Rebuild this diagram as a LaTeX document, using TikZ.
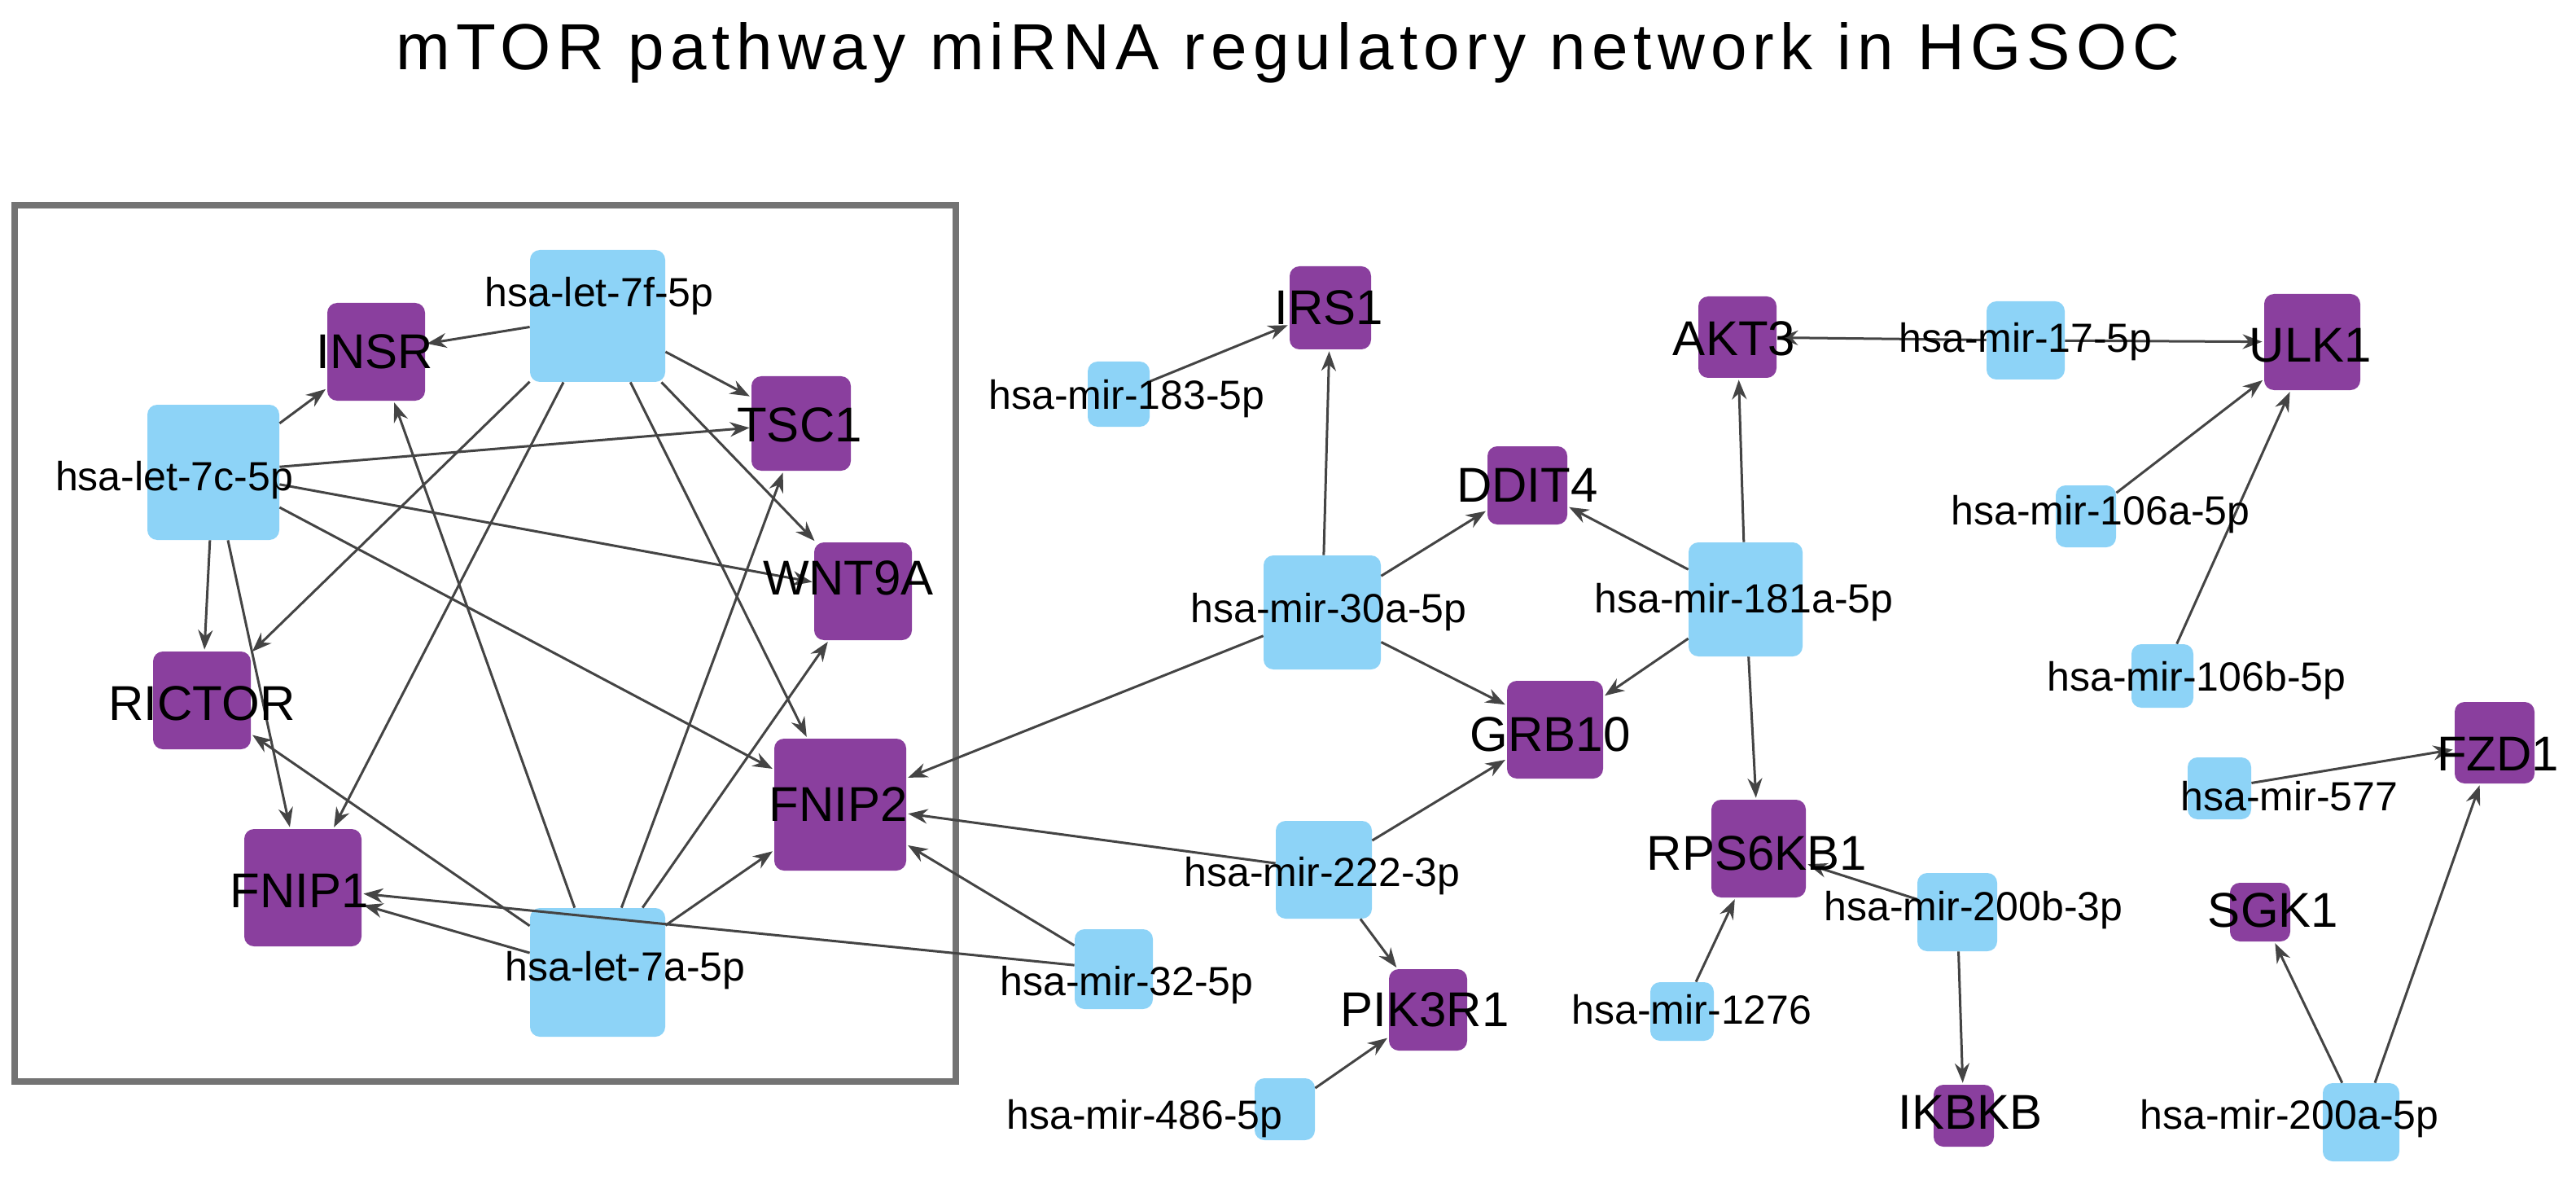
\documentclass[tikz,border=0pt]{standalone}
\usepackage{fontspec}
\setmainfont{Liberation Sans}
\usetikzlibrary{arrows.meta}
\definecolor{pur}{HTML}{8A3F9E}
\definecolor{blu}{HTML}{8DD3F7}
\definecolor{edg}{HTML}{444444}
\begin{document}
\begin{tikzpicture}[x=1pt,y=-1pt,
 p/.style={fill=pur,draw=none,rounded corners=6pt,inner sep=0},
 b/.style={fill=blu,draw=none,rounded corners=6pt,inner sep=0},
 pl/.style={font=\fontsize{30}{32}\selectfont,inner sep=0},
 bl/.style={font=\fontsize{25}{27}\selectfont,inner sep=0},
 e/.style={draw=edg,line width=1.5pt,-{Stealth[length=12pt,width=9pt]},shorten >=1pt}]
\useasboundingbox (0,0) rectangle (1582,730);
\node[font=\fontsize{40}{44}\selectfont\addfontfeature{LetterSpace=9},anchor=base] (title) at (791,43) {mTOR pathway miRNA regulatory network in HGSOC};
\draw[draw=gray!90!black,line width=4pt] (9,126) rectangle (587,664);
\newcommand\nd[5]{\node[#1,minimum width=#4,minimum height=#5] (#2) at (#3) {};}
% purple
\nd{p}{INSR}{231,216}{60}{60}
\nd{p}{TSC1}{492,260}{61}{58}
\nd{p}{WNT9A}{530,363}{60}{60}
\nd{p}{RICTOR}{124,430}{60}{60}
\nd{p}{FNIP1}{186,545}{72}{72}
\nd{p}{FNIP2}{516,494}{81}{81}
\nd{p}{IRS1}{817,189}{50}{51}
\nd{p}{DDIT4}{938,298}{49}{48}
\nd{p}{GRB10}{955,448}{59}{60}
\nd{p}{PIK3R1}{877,620}{48}{50}
\nd{p}{AKT3}{1067,207}{48}{50}
\nd{p}{ULK1}{1420,210}{59}{59}
\nd{p}{RPS6KB1}{1080,521}{58}{60}
\nd{p}{IKBKB}{1206,685}{37}{38}
\nd{p}{SGK1}{1388,560}{37}{36}
\nd{p}{FZD1}{1532,456}{49}{50}
% blue
\nd{b}{l7f}{367,194}{83}{81}
\nd{b}{l7c}{131,290}{81}{83}
\nd{b}{l7a}{367,597}{83}{79}
\nd{b}{m183}{687,242}{38}{40}
\nd{b}{m30a}{812,376}{72}{70}
\nd{b}{m181a}{1072,368}{70}{70}
\nd{b}{m17}{1244,209}{48}{48}
\nd{b}{m106a}{1281,317}{37}{38}
\nd{b}{m106b}{1328,415}{38}{39}
\nd{b}{m577}{1363,484}{39}{38}
\nd{b}{m222}{813,534}{59}{60}
\nd{b}{m32}{684,595}{48}{49}
\nd{b}{m486}{789,681}{37}{38}
\nd{b}{m1276}{1033,621}{39}{36}
\nd{b}{m200b}{1202,560}{49}{48}
\nd{b}{m200a}{1450,689}{47}{48}
% edges
\foreach \s in {l7f,l7c,l7a}{\foreach \t in {INSR,TSC1,WNT9A,FNIP2,RICTOR,FNIP1}{\draw[e] (\s) -- (\t);}}
\draw[e] (m183)--(IRS1);
\foreach \t in {IRS1,DDIT4,GRB10,FNIP2}{\draw[e] (m30a)--(\t);}
\foreach \t in {DDIT4,AKT3,GRB10,RPS6KB1}{\draw[e] (m181a)--(\t);}
\draw[e] (m17)--(AKT3); \draw[e] (m17)--(ULK1);
\draw[e] (m106a)--(ULK1); \draw[e] (m106b)--(ULK1);
\draw[e] (m577)--(FZD1);
\foreach \t in {FNIP2,GRB10,PIK3R1}{\draw[e] (m222)--(\t);}
\draw[e] (m32)--(FNIP2); \draw[e] (m32)--(FNIP1);
\draw[e] (m486)--(PIK3R1);
\draw[e] (m1276)--(RPS6KB1);
\draw[e] (m200b)--(RPS6KB1); \draw[e] (m200b)--(IKBKB);
\draw[e] (m200a)--(SGK1); \draw[e] (m200a)--(FZD1);
% labels
\node[pl] (tINSR) at (230,216) {INSR};
\node[pl] (tTSC1) at (491,261) {TSC1};
\node[pl] (tWNT9A) at (521,355) {WNT9A};
\node[pl] (tRICTOR) at (124,432) {RICTOR};
\node[pl] (tFNIP1) at (184,547) {FNIP1};
\node[pl] (tFNIP2) at (515,494) {FNIP2};
\node[pl] (tIRS1) at (816,189) {IRS1};
\node[pl] (tDDIT4) at (938,298) {DDIT4};
\node[pl] (tGRB10) at (952,451) {GRB10};
\node[pl] (tPIK3R1) at (875,620) {PIK3R1};
\node[pl] (tAKT3) at (1065,208) {AKT3};
\node[pl] (tULK1) at (1419,212) {ULK1};
\node[pl] (tRPS6KB1) at (1079,524) {RPS6KB1};
\node[pl] (tIKBKB) at (1210,683) {IKBKB};
\node[pl] (tSGK1) at (1396,559) {SGK1};
\node[pl] (tFZD1) at (1534,463) {FZD1};
\node[bl] (tl7f) at (368,182) {hsa-let-7f-5p};
\node[bl] (tl7c) at (107,295) {hsa-let-7c-5p};
\node[bl] (tl7a) at (384,596) {hsa-let-7a-5p};
\node[bl] (tm183) at (692,245) {hsa-mir-183-5p};
\node[bl] (tm30a) at (816,376) {hsa-mir-30a-5p};
\node[bl] (tm181a) at (1071,370) {hsa-mir-181a-5p};
\node[bl] (tm17) at (1244,210) {hsa-mir-17-5p};
\node[bl] (tm106a) at (1290,316) {hsa-mir-106a-5p};
\node[bl] (tm106b) at (1349,418) {hsa-mir-106b-5p};
\node[bl] (tm577) at (1406,489) {hsa-mir-577};
\node[bl] (tm222) at (812,538) {hsa-mir-222-3p};
\node[bl] (tm32) at (692,605) {hsa-mir-32-5p};
\node[bl] (tm486) at (703,687) {hsa-mir-486-5p};
\node[bl] (tm1276) at (1039,620) {hsa-mir-1276};
\node[bl] (tm200b) at (1212,559) {hsa-mir-200b-3p};
\node[bl] (tm200a) at (1406,687) {hsa-mir-200a-5p};
\end{tikzpicture}
\end{document}
